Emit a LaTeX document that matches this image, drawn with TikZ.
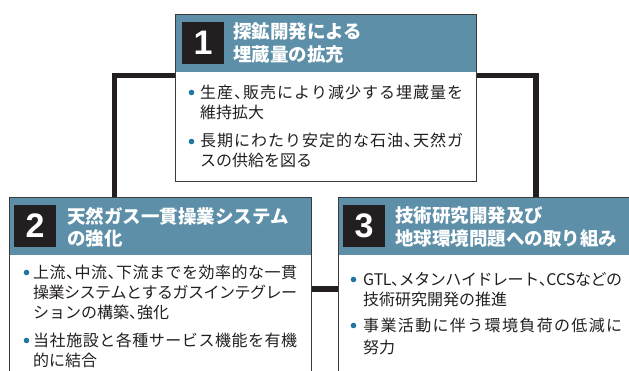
\documentclass[tikz,border=0pt]{standalone}
\usepackage{fontspec}
\setmainfont{Noto Sans CJK JP}
\newfontfamily\numfont{Liberation Sans}
\definecolor{hdr}{HTML}{5D8FA8}
\definecolor{numbk}{HTML}{231F20}
\definecolor{bordc}{HTML}{3A3A3A}
\definecolor{bulc}{HTML}{2277A0}
\definecolor{txtc}{HTML}{231F20}
\def\jg{\hskip 0pt plus 1fil minus 1pt\relax}
\def\jx#1{\ifx#1\relax\else#1\jg\expandafter\jx\fi}
\newcommand\jline[2]{\hbox to #1{\jx#2\relax\unskip}}
\newcommand\tcm{\makebox[0.5em][l]{、}}
\tikzset{
 boxst/.style={draw=bordc, line width=1.3pt, inner sep=0pt, anchor=north west},
 hdrst/.style={fill=hdr, inner sep=0pt, anchor=north west, minimum height=57.5pt},
 numst/.style={fill=numbk, text=white, minimum width=42pt, minimum height=42pt, inner sep=0pt, font=\numfont\bfseries\fontsize{34}{34}\selectfont},
 htext/.style={anchor=base west, inner sep=0pt, text=white, font=\bfseries\fontsize{18.5}{18.5}\selectfont},
 btext/.style={anchor=base west, inner sep=0pt, text=txtc, font=\fontsize{16}{16}\selectfont},
 conn/.style={draw=numbk, line width=5.5pt},
}
\begin{document}
\begin{tikzpicture}[x=1pt,y=-1pt]
\useasboundingbox (0,0) rectangle (629,371);
\clip (0,0) rectangle (629,371);
% headers
\node[hdrst, minimum width=300.5pt] (h1) at (175,14) {};
\node[hdrst, minimum width=302pt] (h2) at (9,197) {};
\node[hdrst, minimum width=300pt] (h3) at (338,197) {};
% boxes
\node[boxst, minimum width=300.5pt, minimum height=167pt] (b1) at (175,14) {};
\node[boxst, minimum width=302pt, minimum height=190pt] (b2) at (9,197) {};
\node[boxst, minimum width=300pt, minimum height=190pt] (b3) at (338,197) {};
% connectors
\coordinate (c1) at (114.5,75.5);
\coordinate (c2) at (536,75.5);
\coordinate (c3) at (0,289);
\draw[conn] (b1.west |- c1) -| (c1 |- b2.north);
\draw[conn] (b1.east |- c2) -| (c2 |- b3.north);
\draw[conn] (b2.east |- c3) -- (b3.west |- c3);
% numbers
\node[numst] (n1) at (203,42.75) {1};
\node[numst] (n2) at (35,225.75) {2};
\node[numst] (n3) at (364,225.75) {3};
% header texts
\node[htext] (h1a) at (233,38.5) {探鉱開発による};
\node[htext] (h1b) at (233,62) {埋蔵量の拡充};
\node[htext] (h2a) at (67,223.5) {天然ガス一貫操業システム};
\node[htext] (h2b) at (67,245.5) {の強化};
\node[htext] (h3a) at (395,222.5) {技術研究開発及び};
\node[htext] (h3b) at (395,245.5) {地球環境問題への取り組み};
% bullets
\fill[bulc] (191.5,92.5) circle (2.8pt);
\fill[bulc] (191.5,141.5) circle (2.8pt);
\fill[bulc] (26.5,272.5) circle (2.8pt);
\fill[bulc] (26.5,340.5) circle (2.8pt);
\fill[bulc] (353.5,279.5) circle (2.8pt);
\fill[bulc] (353.5,325.5) circle (2.8pt);
% body box 1
\node[btext] (t1a) at (200,98.5) {\jline{263pt}{生産\tcm 販売により減少する埋蔵量を}};
\node[btext] (t1b) at (200,119) {維持拡大};
\node[btext] (t1c) at (200,147) {\jline{263pt}{長期にわたり安定的な石油\tcm 天然ガ}};
\node[btext] (t1d) at (200,167) {スの供給を図る};
% body box 2
\node[btext] (t2a) at (33,278.5) {\jline{264pt}{上流\tcm 中流\tcm 下流までを効率的な一貫}};
\node[btext] (t2b) at (33,298.5) {\jline{264pt}{操業システムとするガスインテグレー}};
\node[btext] (t2c) at (33,318.5) {ションの構築\tcm 強化};
\node[btext] (t2d) at (33,346.5) {\jline{264pt}{当社施設と各種サービス機能を有機}};
\node[btext] (t2e) at (33,366.5) {的に結合};
% body box 3
\node[btext] (t3a) at (363,285.5) {\jline{259pt}{GTL\tcm メタンハイドレート\tcm CCSなどの}};
\node[btext] (t3b) at (363,305.5) {技術研究開発の推進};
\node[btext] (t3c) at (363,331.5) {\jline{259pt}{事業活動に伴う環境負荷の低減に}};
\node[btext] (t3d) at (363,353.5) {努力};
\end{tikzpicture}
\end{document}
